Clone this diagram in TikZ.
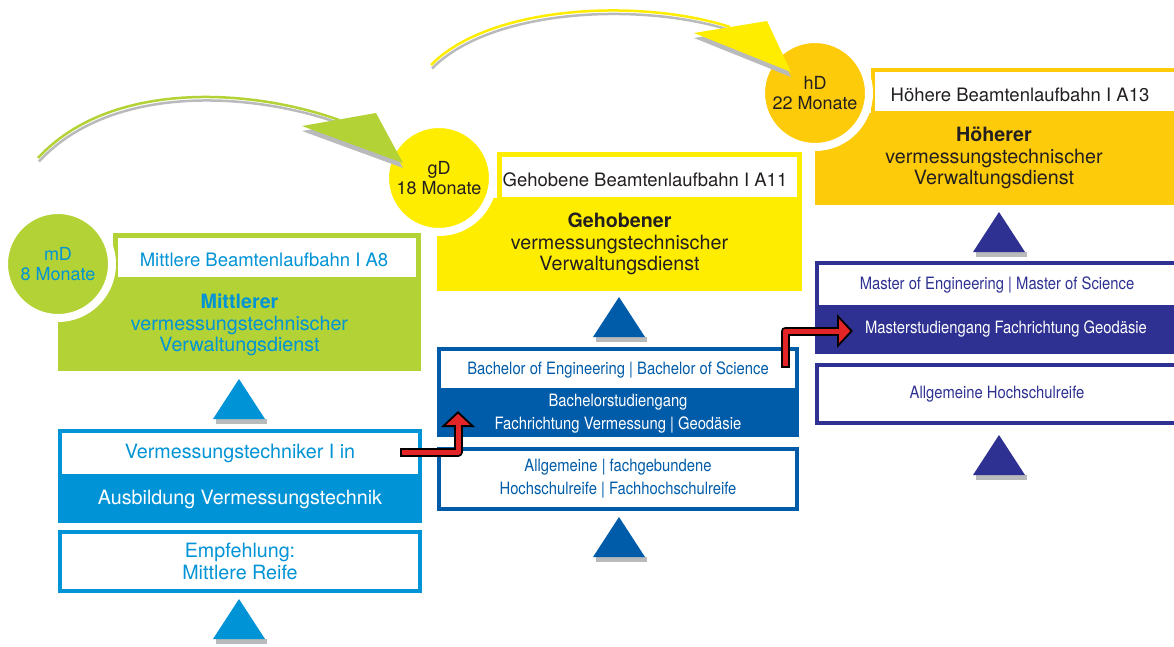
\documentclass[tikz,border=0pt]{standalone}
\usepackage{fontspec}
\setmainfont{TeX Gyre Heros}
\newfontfamily\condfont{TeX Gyre Heros}[FakeStretch=0.87]
\usetikzlibrary{arrows.meta,calc}

\definecolor{mgreen}{HTML}{B3D235}
\definecolor{gyellow}{HTML}{FFED00}
\definecolor{horange}{HTML}{FECB0A}
\definecolor{lblue}{HTML}{0093D6}
\definecolor{mblue}{HTML}{005CA9}
\definecolor{indigo}{HTML}{2E3192}
\definecolor{shadowgray}{HTML}{B9BABC}
\definecolor{arrred}{HTML}{E42528}
\definecolor{darktext}{HTML}{231F20}

\tikzset{
  txt/.style={font=\fontsize{18.5}{21.5}\selectfont, align=center, inner sep=0pt},
  btxt/.style={font=\fontsize{19.7}{21.5}\selectfont, align=center, inner sep=0pt},
  ctxt/.style={font=\condfont\fontsize{17}{23}\selectfont, align=center, inner sep=0pt},
  hdrframe/.style={draw=#1, line width=5pt, fill=white, inner sep=0pt},
  bodyfill/.style={fill=#1, inner sep=0pt},
  outbox/.style={draw=#1, line width=4pt, fill=white, inner sep=0pt},
  badge/.style={circle, fill=#1, draw=white, line width=8pt, inner sep=0pt,
    minimum size=108pt, font=\fontsize{18}{19.5}\selectfont, align=center},
  redouter/.style={draw=black, line width=9pt, line join=round,
    -{Triangle[length=16pt,width=33pt]}},
  redinner/.style={draw=arrred, line width=5pt, line join=round,
    shorten <=2pt, shorten >=2.8pt, -{Triangle[length=11pt,width=23pt]}},
}

\begin{document}
\begin{tikzpicture}[x=1pt,y=-1pt]
  \useasboundingbox (0,0) rectangle (1174,646);
  \clip (0,0) rectangle (1174,646);

  % mD column (green)
  \node[bodyfill=mgreen, minimum width=363pt, minimum height=92pt, btxt, text=lblue] (mbody) at (239.5,325)
    {\textbf{Mittlerer}\\vermessungstechnischer\\Verwaltungsdienst};
  \node[hdrframe=mgreen, minimum width=303pt, minimum height=44pt] (mframe) at (267,257) {};
  \node[txt, text=lblue] (mhead) at (264,260) {Mittlere Beamtenlaufbahn I A8};
  \node[badge=mgreen, text=lblue] (md) at (58,264) {mD\\8 Monate};

  % gD column (yellow)
  \node[bodyfill=gyellow, minimum width=365pt, minimum height=93pt, btxt, text=darktext] (gbody) at (619.5,244)
    {\textbf{Gehobener}\\vermessungstechnischer\\Verwaltungsdienst};
  \node[hdrframe=gyellow, minimum width=300pt, minimum height=44.5pt] (gframe) at (649.5,176.75) {};
  \node[txt, text=darktext] (ghead) at (645,180) {Gehobene Beamtenlaufbahn I A11};
  \node[badge=gyellow, text=darktext] (gd) at (439,178) {gD\\18 Monate};

  % hD column (orange)
  \node[bodyfill=horange, minimum width=365pt, minimum height=92pt] (hbody) at (997.5,159) {};
  \node[btxt, text=darktext] (hbodytxt) at (994,158)
    {\textbf{H\"oherer}\\vermessungstechnischer\\Verwaltungsdienst};
  \node[hdrframe=horange, line width=4pt, minimum width=307pt, minimum height=43pt] (hframe) at (1026.5,91.5) {};
  \node[txt, text=darktext] (hhead) at (1020,95) {H\"ohere Beamtenlaufbahn I A13};
  \node[badge=horange, text=darktext] (hd) at (815,93) {hD\\22 Monate};

  % Ausbildung
  \node[outbox=lblue, minimum width=360pt, minimum height=45pt, btxt, text=lblue] (vtech) at (240,453)
    {Vermessungstechniker I in};
  \node[bodyfill=lblue, minimum width=364pt, minimum height=47pt, btxt, text=white] (ausb) at (240,499.5)
    {Ausbildung Vermessungstechnik};
  \node[outbox=lblue, minimum width=360pt, minimum height=59pt, btxt, text=lblue] (empf) at (240,561.5)
    {Empfehlung:\\Mittlere Reife};

  % Bachelor
  \node[outbox=mblue, minimum width=358pt, minimum height=41pt, ctxt, text=mblue] (bsc) at (618,369.5)
    {Bachelor of Engineering | Bachelor of Science};
  \node[bodyfill=mblue, minimum width=362pt, minimum height=47pt, ctxt, text=white] (bstud) at (618,413.5)
    {Bachelorstudiengang\\Fachrichtung Vermessung | Geod\"asie};
  \node[outbox=mblue, minimum width=358pt, minimum height=60pt, ctxt, text=mblue] (abi) at (618,479)
    {Allgemeine | fachgebundene\\Hochschulreife | Fachhochschulreife};

  % Master
  \node[outbox=indigo, minimum width=360pt, minimum height=44pt, ctxt, text=indigo] (msc) at (997,285)
    {Master of Engineering | Master of Science};
  \node[bodyfill=indigo, minimum width=364pt, minimum height=47pt] (mstud) at (997,330.5) {};
  \node[ctxt, text=white] (mstudtxt) at (1006,329) {Masterstudiengang Fachrichtung Geod\"asie};
  \node[outbox=indigo, minimum width=360pt, minimum height=58pt, ctxt, text=indigo] (ahr) at (997,394)
    {Allgemeine Hochschulreife};

  % Triangles
  \foreach \cx/\ya/\col in {239/379/lblue, 239/599/lblue, 619/297/mblue,
                            619/517/mblue, 999/212/indigo, 999/435/indigo}{
    \fill[shadowgray] (\cx-23,\ya+40) rectangle (\cx+28,\ya+45);
    \fill[\col] (\cx,\ya) -- (\cx+26,\ya+40) -- (\cx-26,\ya+40) -- cycle;
  }

  % Red arrows
  \coordinate (r1s) at (400,452);
  \coordinate (r1t) at (458,411);
  \coordinate (r2s) at (785,368);
  \coordinate (r2t) at (853,331);
  \draw[redouter] (r1s) -| (r1t);
  \draw[redinner] (r1s) -| (r1t);
  \draw[redouter] (r2s) |- (r2t);
  \draw[redinner] (r2s) |- (r2t);

  % Arcs
  \coordinate (gas) at (38,158);
  \coordinate (gae) at (339,120);
  \draw[shadowgray, line width=2.5pt] ($(gas)+(1,3.5)$) .. controls (111,83.5) and (251,91.5) .. ($(gae)+(1,3.5)$);
  \draw[mgreen, line width=2.5pt] (gas) .. controls (110,80) and (250,88) .. (gae);
  \fill[shadowgray] (302,131) -- (376,118) -- (403,168) -- cycle;
  \fill[mgreen] (302,126) -- (376,113) -- (403,163) -- cycle;

  \coordinate (yas) at (431,65);
  \coordinate (yae) at (730,27);
  \draw[shadowgray, line width=2.5pt] ($(yas)+(1,3.5)$) .. controls (491,8.5) and (641,1.5) .. ($(yae)+(1,3.5)$);
  \draw[gyellow, line width=2.5pt] (yas) .. controls (490,5) and (640,-2) .. (yae);
  \fill[shadowgray] (694,38) -- (767,26) -- (791,77) -- cycle;
  \fill[gyellow] (694,33) -- (767,21) -- (791,72) -- cycle;
\end{tikzpicture}
\end{document}
